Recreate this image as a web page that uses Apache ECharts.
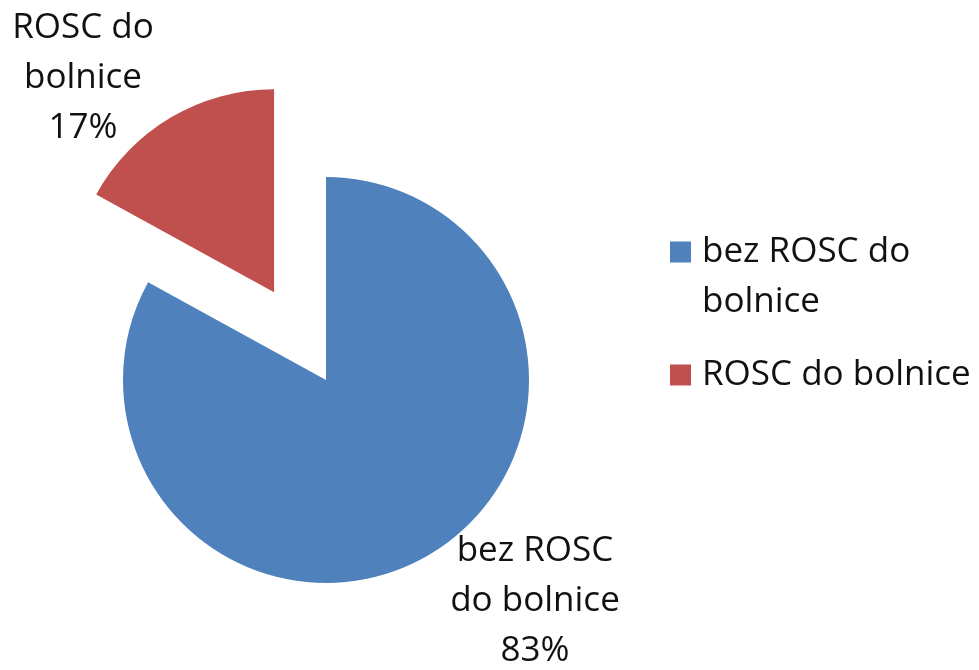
<!DOCTYPE html>
<html><head><meta charset="utf-8">
<script src="https://cdn.jsdelivr.net/npm/echarts@6/dist/echarts.min.js"></script>
<style>html,body{margin:0;padding:0;background:#fff}#c{width:979px;height:670px}</style>
</head><body><div id="c"></div>
<script>
const categories = ['bez ROSC do bolnice', 'ROSC do bolnice'];
const values = [83, 17];
const sliceLabels = ['bez ROSC\ndo bolnice', 'ROSC do\nbolnice'];
const legendLabels = ['bez ROSC do\nbolnice', 'ROSC do bolnice'];
const colors = ['#4F81BD', '#C0504D'];

const FONT = '"Open Sans", sans-serif';
const chart = echarts.init(document.getElementById('c'));
const CENTER = [326, 380];
const EXPLODE = 102;
const labelPos = [[535, 601], [83, 78]];

// explode direction of the second slice (mid angle, clockwise from 12 o'clock)
const total = values.reduce((a, b) => a + b, 0);
const midAngle = 2 * Math.PI * (values[0] + values[1] / 2) / total;
const center2 = [CENTER[0] + EXPLODE * Math.sin(midAngle), CENTER[1] - EXPLODE * Math.cos(midAngle)];

const labelCfg = {
  show: true, position: 'outside',
  fontFamily: FONT, fontSize: 35, lineHeight: 50, color: '#111', align: 'center',
  formatter: p => sliceLabels[p.dataIndex] + '\n' + p.value + '%'
};
function pieSeries(center, visibleIdx) {
  return {
    type: 'pie', center, radius: 203, startAngle: 90, clockwise: true,
    avoidLabelOverlap: false, emphasis: { disabled: true }, silent: true,
    label: labelCfg, labelLine: { show: false },
    labelLayout: p => ({ x: labelPos[p.dataIndex][0], y: labelPos[p.dataIndex][1], align: 'center', verticalAlign: 'middle', hideOverlap: false }),
    data: categories.map((c, i) => i === visibleIdx
      ? { name: c, value: values[i], itemStyle: { color: colors[i] } }
      : { name: c, value: values[i], itemStyle: { color: colors[i], opacity: 0 }, label: { show: false } })
  };
}

const legendText = { fontFamily: FONT, fontSize: 35, lineHeight: 50, color: '#111', padding: [0, 0, 0, 6] };
chart.setOption({
  animation: false,
  legend: [{
    data: [{ name: categories[0], itemStyle: { color: colors[0], opacity: 1 } }],
    orient: 'vertical', left: 665, top: 222,
    itemWidth: 21, itemHeight: 71,
    icon: 'path://M0,0 L21,0 L21,21 L0,21 Z M0,71 L21,71',
    formatter: n => legendLabels[categories.indexOf(n)],
    selectedMode: false, textStyle: legendText
  }, {
    data: [{ name: categories[1], itemStyle: { color: colors[1], opacity: 1 } }],
    orient: 'vertical', left: 665, top: 345,
    itemWidth: 21, itemHeight: 21, icon: 'rect',
    formatter: n => legendLabels[categories.indexOf(n)],
    selectedMode: false, textStyle: legendText
  }],
  series: [pieSeries(CENTER, 0), pieSeries(center2, 1)]
});
</script></body></html>
